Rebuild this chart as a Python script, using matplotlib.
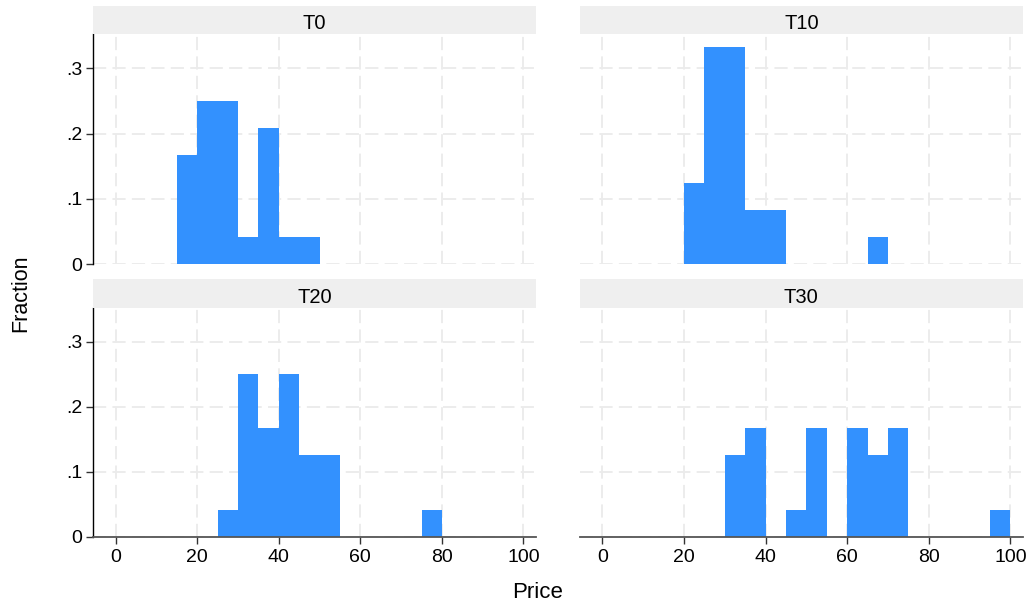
import matplotlib
matplotlib.use("Agg")
import matplotlib.pyplot as plt

plt.rcParams['font.family'] = ['Liberation Sans', 'DejaVu Sans']
plt.rcParams['lines.scale_dashes'] = False

# Histogram data: left edges of 5-unit price bins and the fraction in each bin
bin_width = 5
panel_titles = ["T0", "T10", "T20", "T30"]

t0_left = [15, 20, 25, 30, 35, 40, 45]
t0_frac = [0.1667, 0.25, 0.25, 0.0417, 0.2083, 0.0417, 0.0417]

t10_left = [20, 25, 30, 35, 40, 65]
t10_frac = [0.125, 0.3333, 0.3333, 0.0833, 0.0833, 0.0417]

t20_left = [25, 30, 35, 40, 45, 50, 75]
t20_frac = [0.0417, 0.25, 0.1667, 0.25, 0.125, 0.125, 0.0417]

t30_left = [30, 35, 45, 50, 60, 65, 70, 95]
t30_frac = [0.125, 0.1667, 0.0417, 0.1667, 0.1667, 0.125, 0.1667, 0.0417]

x_ticks = [0, 20, 40, 60, 80, 100]
y_ticks = [0, 0.1, 0.2, 0.3]
y_tick_labels = ["0", ".1", ".2", ".3"]

panels = [(t0_left, t0_frac), (t10_left, t10_frac),
          (t20_left, t20_frac), (t30_left, t30_frac)]

W, H = 1029, 603
fig = plt.figure(figsize=(W / 100, H / 100), dpi=100)
fig.patch.set_facecolor("white")

bar_color = "#3391fe"
grid_color = "#ebebeb"
strip_color = "#efefef"

# pixel boxes (left, top, right, bottom) of each plot region
boxes = [
    (93.3, 34.3, 535.7, 264.3),
    (580.0, 34.3, 1022.7, 264.3),
    (93.3, 307.7, 535.7, 536.7),
    (580.0, 307.7, 1022.7, 536.7),
]
strip_h = 28.5


def frac_rect(l, t, r, b):
    return [l / W, 1 - b / H, (r - l) / W, (b - t) / H]


for i, ((lefts, fracs), title, (l, t, r, b)) in enumerate(zip(panels, panel_titles, boxes)):
    ax = fig.add_axes(frac_rect(l, t, r, b))
    ax.set_axisbelow(True)
    ax.bar(lefts, fracs, width=bin_width, align="edge", color=bar_color,
           linewidth=0, antialiased=False, zorder=2)
    ax.set_xlim(-5.5, 103)
    ax.set_ylim(0, 0.352)
    ax.set_xticks(x_ticks)
    ax.set_yticks(y_ticks)
    ax.grid(True, color=grid_color, linewidth=1.3, linestyle=(0, (9.5, 4.5)))

    for s in ["top", "right"]:
        ax.spines[s].set_visible(False)

    left_col = (i % 2 == 0)
    bottom_row = (i >= 2)

    if left_col:
        ax.spines["left"].set_color("black")
        ax.spines["left"].set_linewidth(1.0)
        ax.set_yticklabels(y_tick_labels)
        ax.tick_params(axis="y", length=5, width=1.0, color="#333333",
                       labelsize=14, pad=3)
    else:
        ax.spines["left"].set_visible(False)
        ax.tick_params(axis="y", length=0, labelleft=False)

    if bottom_row:
        ax.spines["bottom"].set_color("#555555")
        ax.spines["bottom"].set_linewidth(1.3)
        ax.tick_params(axis="x", length=5, width=1.0, color="#333333",
                       labelsize=14, pad=4)
    else:
        ax.spines["bottom"].set_visible(False)
        ax.tick_params(axis="x", length=0, labelbottom=False)

    # panel header strip
    sax = fig.add_axes(frac_rect(l, t - strip_h, r, t))
    sax.set_facecolor(strip_color)
    sax.set_xticks([])
    sax.set_yticks([])
    for s in sax.spines.values():
        s.set_visible(False)
    sax.text(0.5, 0.17, title, ha="center", va="baseline", fontsize=14.5,
             transform=sax.transAxes)

fig.text(538 / W, 1 - 598 / H, "Price", ha="center", va="baseline", fontsize=16)
fig.text(21 / W, 1 - 293 / H, "Fraction", ha="center", va="center",
         rotation=90, fontsize=15.5)

fig.savefig("out.png", dpi=100, facecolor="white")
